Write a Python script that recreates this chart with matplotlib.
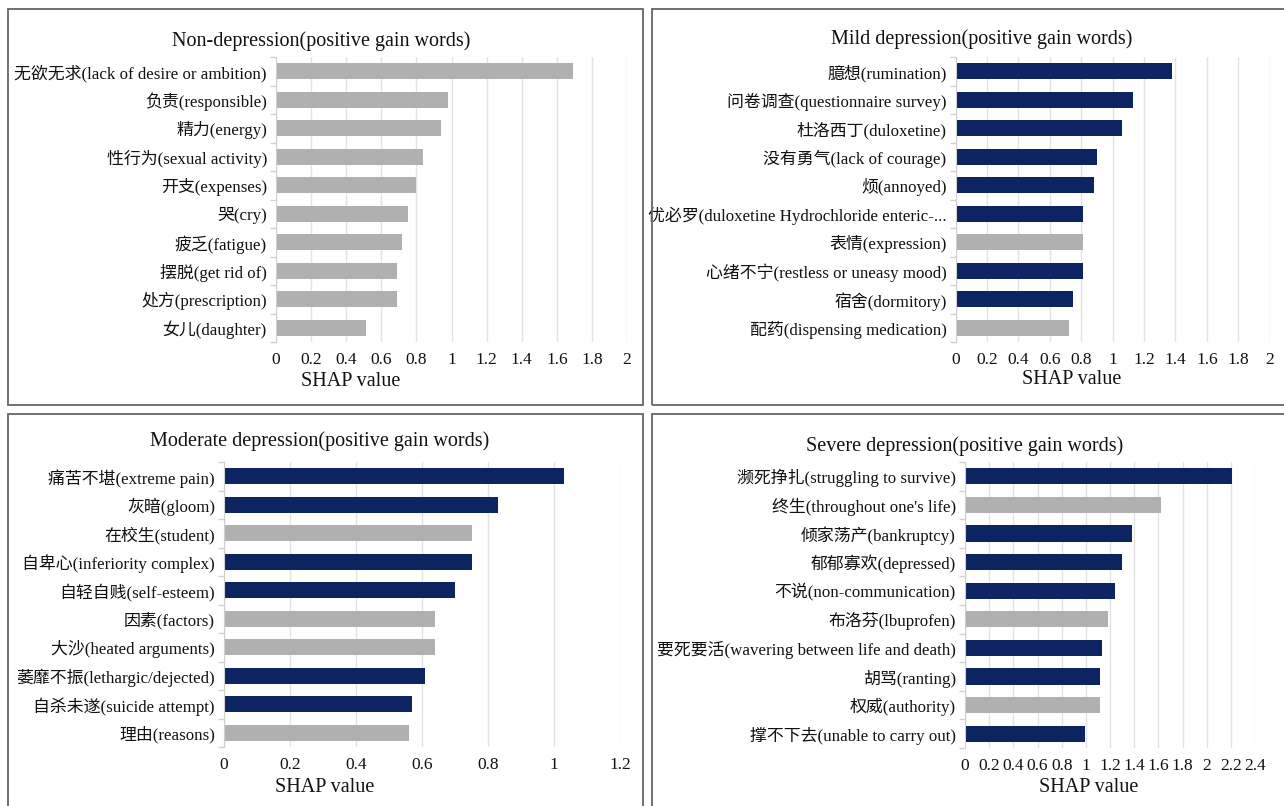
import numpy as np
import matplotlib
matplotlib.use('Agg')
import matplotlib.pyplot as plt
from matplotlib.patches import Rectangle

# ---------------- data ----------------
cats1 = ['无欲无求(lack of desire or ambition)', '负责(responsible)', '精力(energy)',
         '性行为(sexual activity)', '开支(expenses)', '哭(cry)', '疲乏(fatigue)',
         '摆脱(get rid of)', '处方(prescription)', '女儿(daughter)']
vals1 = [1.69, 0.98, 0.94, 0.84, 0.80, 0.75, 0.72, 0.69, 0.69, 0.51]
kind1 = ['G', 'G', 'G', 'G', 'G', 'G', 'G', 'G', 'G', 'G']

cats2 = ['臆想(rumination)', '问卷调查(questionnaire survey)', '杜洛西丁(duloxetine)',
         '没有勇气(lack of courage)', '烦(annoyed)', '优必罗(duloxetine Hydrochloride enteric-...',
         '表情(expression)', '心绪不宁(restless or uneasy mood)', '宿舍(dormitory)',
         '配药(dispensing medication)']
vals2 = [1.38, 1.13, 1.06, 0.90, 0.88, 0.81, 0.81, 0.81, 0.75, 0.72]
kind2 = ['N', 'N', 'N', 'N', 'N', 'N', 'G', 'N', 'N', 'G']

cats3 = ['痛苦不堪(extreme pain)', '灰暗(gloom)', '在校生(student)', '自卑心(inferiority complex)',
         '自轻自贱(self-esteem)', '因素(factors)', '大沙(heated arguments)',
         '萎靡不振(lethargic/dejected)', '自杀未遂(suicide attempt)', '理由(reasons)']
vals3 = [1.03, 0.83, 0.75, 0.75, 0.70, 0.64, 0.64, 0.61, 0.57, 0.56]
kind3 = ['N', 'N', 'G', 'N', 'N', 'G', 'G', 'N', 'N', 'G']

cats4 = ['濒死挣扎(struggling to survive)', "终生(throughout one's life)", '倾家荡产(bankruptcy)',
         '郁郁寡欢(depressed)', '不说(non-communication)', '布洛芬(lbuprofen)',
         '要死要活(wavering between life and death)', '胡骂(ranting)', '权威(authority)',
         '撑不下去(unable to carry out)']
vals4 = [2.21, 1.62, 1.38, 1.30, 1.24, 1.18, 1.13, 1.12, 1.12, 0.99]
kind4 = ['N', 'G', 'N', 'N', 'N', 'G', 'N', 'N', 'G', 'N']

titles = ['Non-depression(positive gain words)', 'Mild depression(positive gain words)',
          'Moderate depression(positive gain words)', 'Severe depression(positive gain words)']

ticks_2 = ['0', '0.2', '0.4', '0.6', '0.8', '1', '1.2', '1.4', '1.6', '1.8', '2']
ticks_12 = ['0', '0.2', '0.4', '0.6', '0.8', '1', '1.2']
ticks_24 = ['0', '0.2', '0.4', '0.6', '0.8', '1', '1.2', '1.4', '1.6', '1.8', '2', '2.2', '2.4']

COLORS = {'N': '#0C2461', 'G': '#B0B0B0'}

# ---------------- figure ----------------
W, H = 1284, 806
plt.rcParams['font.family'] = ['Liberation Serif', 'Noto Sans CJK SC']
fig = plt.figure(figsize=(W / 100, H / 100), dpi=100)


def fx(px):
    return px / W


def fy(py):
    return 1 - py / H


def add_panel(box, axbox, title, tpos, xlabpos, cats, vals, kinds, ticklabels):
    x0, y0, x1, y1 = box
    rect = Rectangle((fx(x0), fy(y1)), fx(x1) - fx(x0), fy(y0) - fy(y1),
                     transform=fig.transFigure, fill=False, edgecolor='#666666',
                     lw=1.3, clip_on=False)
    fig.patches.append(rect)
    l, t, r, b = axbox
    ax = fig.add_axes([fx(l), fy(b), fx(r) - fx(l), fy(t) - fy(b)])
    y = np.arange(len(cats))
    ax.barh(y, vals, height=0.56, color=[COLORS[k] for k in kinds], zorder=3)
    ax.set_ylim(len(cats) - 0.5, -0.5)
    tickvals = [float(s) for s in ticklabels]
    ax.set_xlim(0, tickvals[-1])
    ax.set_yticks(y)
    ax.set_yticklabels(cats, fontsize=12.2, color='#111111')
    ax.set_yticks(np.arange(-0.5, len(cats)), minor=True)
    ax.tick_params(axis='y', which='major', length=0, pad=6.5)
    ax.tick_params(axis='y', which='minor', length=4, color='#d0d0d0', width=1)
    ax.set_xticks(tickvals)
    ax.set_xticklabels(ticklabels, fontsize=12.5, color='#111111')
    ax.tick_params(axis='x', length=0, pad=7)
    ax.grid(axis='x', color='#e3e3e3', lw=1, zorder=0)
    ax.set_axisbelow(True)
    for s in ['top', 'right', 'bottom']:
        ax.spines[s].set_visible(False)
    ax.spines['left'].set_color('#d0d0d0')
    ax.spines['left'].set_zorder(4)
    fig.text(fx(tpos[0]), fy(tpos[1]), title, ha='center', va='center',
             fontsize=14.5, color='#111111')
    fig.text(fx(xlabpos[0]), fy(xlabpos[1]), 'SHAP value', ha='center', va='center',
             fontsize=14.5, color='#111111')
    return ax


add_panel((8, 9, 643, 405.5), (276, 57, 627, 342), titles[0], (321, 41), (351, 381),
          cats1, vals1, kind1, ticks_2)
add_panel((652, 9, 1292, 405.5), (955.5, 57, 1269.7, 342), titles[1], (982, 39), (1072, 380),
          cats2, vals2, kind2, ticks_2)
add_panel((8, 414, 643, 812), (224, 462, 620, 747), titles[2], (319.5, 441), (325, 788),
          cats3, vals3, kind3, ticks_12)
add_panel((652, 414, 1292, 812), (965, 462, 1255, 748), titles[3], (964.5, 446), (1089, 788),
          cats4, vals4, kind4, ticks_24)

fig.savefig('out.png', dpi=100, facecolor='white')
